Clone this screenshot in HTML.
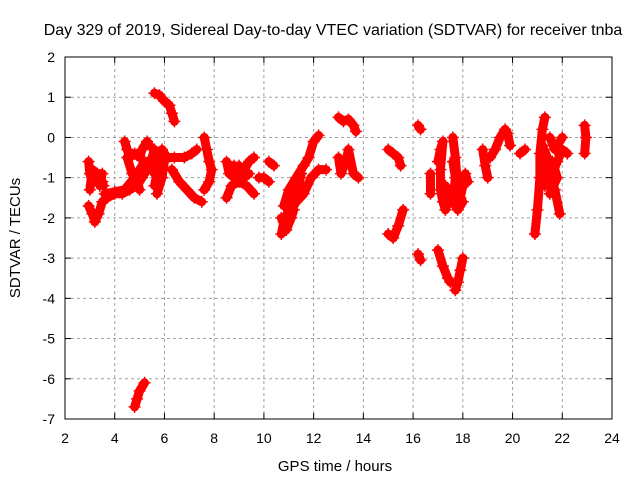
<!DOCTYPE html>
<html><head><meta charset="utf-8"><style>
body{margin:0;background:#fff}
svg{font-family:"Liberation Sans",sans-serif}
</style></head><body>
<svg id="c" width="640" height="480">
<rect width="640" height="480" fill="#fff"/>
<text x="333" y="35" font-size="16" text-anchor="middle">Day 329 of 2019, Sidereal Day-to-day VTEC variation (SDTVAR) for receiver tnba</text>
<text x="335" y="471" font-size="15" text-anchor="middle">GPS time / hours</text>
<text transform="translate(20,238) rotate(-90)" font-size="15" text-anchor="middle">SDTVAR / TECUs</text>
<g id="grid"></g><g id="marks"></g><g id="axes"></g>
</svg>
<script>
const xTicks=[2,4,6,8,10,12,14,16,18,20,22,24];
const yTicks=[2,1,0,-1,-2,-3,-4,-5,-6,-7];
const track1=[[2.95,-0.6],[3.0,-0.9],[3.1,-1.1],[3.2,-0.9],[3.3,-1.1],[3.4,-1.0],[3.5,-1.1],[3.55,-1.2]];
const track1b=[[3.0,-1.3],[3.1,-0.8],[3.3,-0.9],[3.5,-0.9],[3.4,-1.2]];
const track2=[[2.95,-1.7],[3.1,-1.9],[3.2,-2.1],[3.35,-1.9],[3.5,-1.6],[3.7,-1.5],[4.0,-1.4],[4.3,-1.4],[4.6,-1.3],[4.9,-1.2],[5.1,-1.0],[5.3,-0.8],[5.5,-0.5],[5.6,-0.3]];
const track2b=[[3.6,-1.4],[4.0,-1.35],[4.4,-1.3],[4.8,-1.0],[5.0,-0.8],[5.2,-0.6]];
const track3=[[4.4,-0.1],[4.5,-0.3],[4.6,-0.5],[4.8,-0.4],[5.0,-0.5],[5.1,-0.3],[5.3,-0.1],[5.4,-0.2]];
const track3b=[[4.5,-0.5],[4.7,-0.9],[4.9,-1.1],[5.0,-1.3]];
const track4=[[5.6,1.1],[5.8,1.05],[6.0,0.9],[6.2,0.8],[6.3,0.6],[6.4,0.4]];
const track5=[[5.6,-0.9],[5.7,-0.5],[5.9,-0.3],[6.1,-0.5],[6.4,-0.5],[6.8,-0.5],[7.1,-0.4],[7.3,-0.3]];
const track5b=[[5.6,-1.2],[5.8,-0.6],[6.0,-0.6],[5.9,-1.0],[5.7,-1.4]];
const track6=[[6.3,-0.8],[6.6,-1.1],[6.9,-1.3],[7.2,-1.5],[7.5,-1.6]];
const track7=[[7.6,0.0],[7.7,-0.3],[7.8,-0.6],[7.9,-0.8],[7.8,-1.1],[7.6,-1.3]];
const track8=[[8.5,-0.6],[8.6,-0.9],[8.8,-0.7],[9.0,-0.9],[9.2,-0.8],[9.4,-0.6],[9.6,-0.5]];
const track8b=[[8.5,-1.5],[8.7,-1.2],[9.0,-1.1],[9.3,-1.2],[9.6,-1.4]];
const track8c=[[8.6,-0.7],[8.8,-1.0],[9.0,-0.7],[9.2,-1.0],[9.4,-0.9]];
const track9=[[9.8,-1.0],[10.0,-1.0],[10.2,-1.1]];
const track9b=[[10.2,-0.6],[10.4,-0.7]];
const track10=[[10.7,-2.4],[10.8,-2.1],[11.0,-1.8],[11.2,-1.5],[11.4,-1.2],[11.5,-0.9]];
const track10b=[[10.8,-1.7],[11.0,-1.3],[11.3,-1.0],[11.6,-0.7],[11.8,-0.5],[12.0,-0.1],[12.2,0.05]];
const track10c=[[11.0,-1.9],[11.3,-1.6],[11.6,-1.4],[11.9,-1.0],[12.2,-0.8],[12.5,-0.8]];
const track10d=[[10.7,-2.0],[10.9,-2.3],[11.1,-2.0],[11.2,-1.8],[11.0,-1.5],[11.3,-1.3]];
const track11=[[13.0,0.5],[13.2,0.4],[13.4,0.45],[13.6,0.3],[13.7,0.15]];
const track12=[[13.0,-0.5],[13.1,-0.9],[13.3,-0.6],[13.4,-0.3],[13.6,-0.9],[13.8,-1.0]];
const track13=[[15.0,-0.3],[15.2,-0.4],[15.4,-0.5],[15.5,-0.7]];
const track14=[[15.0,-2.4],[15.2,-2.5],[15.4,-2.2],[15.6,-1.8]];
const track15=[[16.2,0.3],[16.3,0.2]];
const track15b=[[16.2,-2.9],[16.3,-3.05]];
const track16=[[16.7,-0.9],[16.7,-1.4]];
const track17=[[17.0,-0.6],[17.1,-0.3],[17.2,-0.1],[17.1,-0.8],[17.1,-1.3],[17.2,-1.6],[17.3,-1.8],[17.4,-1.6],[17.3,-1.2]];
const track18=[[17.6,0.0],[17.7,-0.5],[17.8,-1.3],[17.9,-1.5],[18.0,-1.2],[18.1,-0.9],[18.2,-1.1]];
const track18b=[[17.6,-0.6],[17.7,-1.0],[17.6,-1.6],[17.8,-1.8],[18.0,-1.6]];
const track19=[[17.0,-2.8],[17.2,-3.2],[17.4,-3.5],[17.5,-3.6]];
const track19b=[[17.7,-3.8],[17.8,-3.6],[17.9,-3.3],[18.0,-3.0]];
const track20=[[18.8,-0.3],[18.9,-0.7],[19.0,-1.0]];
const track21=[[19.1,-0.5],[19.3,-0.3],[19.5,0.0],[19.7,0.2],[19.8,0.1],[19.9,-0.2]];
const track22=[[20.3,-0.4],[20.5,-0.3]];
const track23=[[20.9,-2.4],[21.0,-1.8],[21.1,-1.0],[21.1,-0.4],[21.2,0.2],[21.3,0.5]];
const track24=[[21.2,-0.6],[21.4,-0.8],[21.6,-0.9],[21.8,-0.6],[22.0,-0.3],[22.2,-0.4]];
const track24b=[[21.3,-1.2],[21.5,-1.0],[21.7,-1.3],[21.9,-1.9]];
const track24c=[[21.5,0.0],[21.7,-0.3],[22.0,0.0]];
const track24d=[[21.2,-0.2],[21.4,-0.5],[21.3,-1.0],[21.6,-0.6],[21.8,-1.0],[21.5,-1.4]];
const track25=[[22.9,0.3],[22.95,0.0],[22.9,-0.4]];
const track26=[[4.8,-6.7],[4.9,-6.5],[5.0,-6.3],[5.2,-6.1]];
const tracks=[track1,track1b,track2,track2b,track3,track3b,track4,track5,track5b,track6,track7,track8,track8b,track8c,track9,track9b,track10,track10b,track10c,track10d,track11,track12,track13,track14,track15,track15b,track16,track17,track18,track18b,track19,track19b,track20,track21,track22,track23,track24,track24b,track24c,track24d,track25,track26];

const L=65,R=612,T=57,B=419;
const xs=v=>L+(v-2)/(24-2)*(R-L);
const ys=v=>T+(2-v)/(2-(-7))*(B-T);
const NS='http://www.w3.org/2000/svg';
function mk(tag,attrs,parent){const e=document.createElementNS(NS,tag);for(const k in attrs)e.setAttribute(k,attrs[k]);parent.appendChild(e);return e;}
const grid=document.getElementById('grid'),marks=document.getElementById('marks'),axes=document.getElementById('axes');
xTicks.forEach(t=>{const x=xs(t);
  if(t>2&&t<24){const g=mk('line',{x1:x,x2:x,y1:T,y2:B,stroke:'#a0a0a0','stroke-dasharray':'3,3'},grid);
  
  }
  mk('line',{x1:x,x2:x,y1:B,y2:B-6,stroke:'#000'},axes);
  mk('line',{x1:x,x2:x,y1:T,y2:T+6,stroke:'#000'},axes);
  const lb=mk('text',{x:x,y:B+24,'font-size':14,'text-anchor':'middle'},axes);lb.textContent=t;
  
  
});
yTicks.forEach(t=>{const y=ys(t);
  if(t<2&&t>-7){const g=mk('line',{x1:L,x2:R,y1:y,y2:y,stroke:'#a0a0a0','stroke-dasharray':'3,3'},grid);
  
  }
  mk('line',{x1:L,x2:L+6,y1:y,y2:y,stroke:'#000'},axes);
  mk('line',{x1:R,x2:R-6,y1:y,y2:y,stroke:'#000'},axes);
  const lb=mk('text',{x:L-10,y:y+5,'font-size':14,'text-anchor':'end'},axes);lb.textContent=t;
  
  
});
const fr=mk('rect',{x:L,y:T,width:R-L,height:B-T,fill:'none',stroke:'#000'},axes);


tracks.forEach(tr=>{
  const pl=mk('polyline',{points:tr.map(p=>xs(p[0])+','+ys(p[1])).join(' '),fill:'none',stroke:'#f00','stroke-width':9,'stroke-linejoin':'round','stroke-linecap':'round'},marks);
  
  
  tr.forEach(p=>{const x=xs(p[0]),y=ys(p[1]);
    const m=mk('path',{d:`M${x-6},${y}H${x+6}M${x},${y-6}V${y+6}`,stroke:'#f00','stroke-width':1.5},marks);
    
    
  });
});
</script>
</body></html>
